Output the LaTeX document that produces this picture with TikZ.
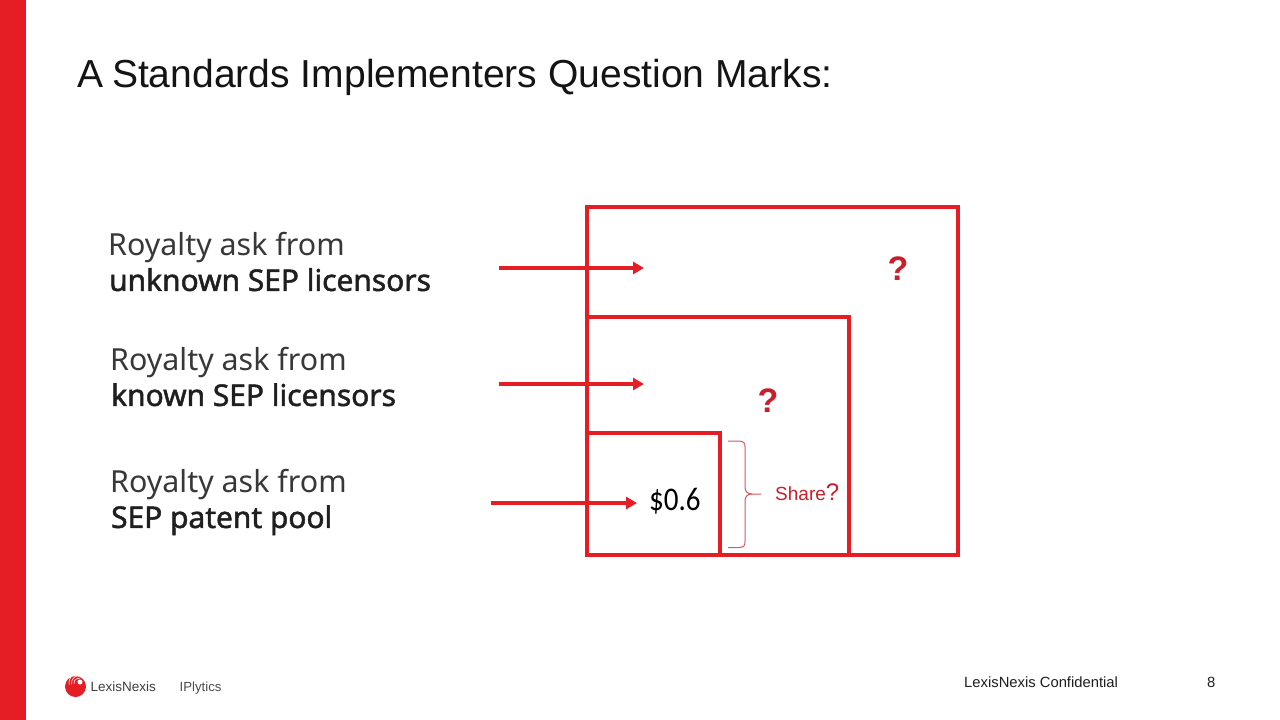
\documentclass[tikz,border=0pt]{standalone}
\usepackage{fontspec}
\setmainfont{Liberation Sans}
\newfontfamily\labelfont[BoldFont={Noto Sans},BoldFeatures={FakeBold=1.6}]{Noto Sans}
\newfontfamily\calfont[FakeStretch=0.88]{Carlito}
\definecolor{lnred}{HTML}{E51E26}
\definecolor{sharered}{HTML}{C8202A}
\usetikzlibrary{arrows.meta}
\tikzset{
  sq/.style={draw=lnred,line width=4.9pt,fill=none,inner sep=0pt,outer sep=0pt,anchor=north west},
  rowlabel/.style={inner sep=0pt,anchor=north west,align=left,text=black!78,font=\labelfont\fontsize{30.4}{36}\selectfont},
  flow/.style={draw=lnred,line width=3.4pt,-{Triangle[length=11pt,width=12pt]}},
  qmark/.style={inner sep=0pt,text=sharered,font=\bfseries\fontsize{34}{34}\selectfont},
  plain/.style={inner sep=0pt,anchor=base west},
  bracepath/.style={draw=sharered!75,line width=1pt}
}
\newcommand{\boldrow}[1]{{\fontsize{29.9}{36}\selectfont\bfseries\color{black!88}\hspace{1pt}#1}}
\begin{document}
\begin{tikzpicture}[x=1pt,y=-1pt]
\useasboundingbox (0,0) rectangle (1280,720);
\fill[white] (0,0) rectangle (1280,720);
\fill[lnred] (0,0) rectangle (26,720);
\node[plain,font=\fontsize{39.05}{42}\selectfont,text=black!92] (title) at (77,87.5) {A\hspace{-2pt} Standards Implementers Question Marks:};

\node[sq,minimum width=371pt,minimum height=348pt] (outer) at (587,207) {};
\node[sq,minimum width=262pt,minimum height=238pt] (mid) at (587,317) {};
\node[sq,minimum width=133pt,minimum height=122pt] (inner) at (587,433) {};

\node[rowlabel] (l1) at (108,232.5) {Royalty ask from\\[-1pt]\boldrow{unknown SEP licensors}};
\node[rowlabel] (l2) at (110,347.5) {Royalty ask from\\[-1pt]\boldrow{known SEP licensors}};
\node[rowlabel] (l3) at (110,469.5) {Royalty ask from\\[-1pt]\boldrow{SEP patent pool}};

\coordinate (a1s) at (499,268); \coordinate (a1e) at (644,268);
\coordinate (a2s) at (499,384); \coordinate (a2e) at (644,384);
\coordinate (a3s) at (491,503); \coordinate (a3e) at (637,503);
\draw[flow] (a1s) -- (a1e);
\draw[flow] (a2s) -- (a2e);
\draw[flow] (a3s) -- (a3e);

\node[qmark] (q1) at (898,269) {?};
\node[qmark] (q2) at (768,401) {?};
\node[plain,font=\calfont\fontsize{33}{33}\selectfont,text=black] (val) at (649,510) {\$0.6};

\draw[bracepath] (728,441) -- (738,441) .. controls (744,441) and (745,443) .. (745,447) -- (745,487)
  .. controls (745,492) and (748,494) .. (752,494) -- (761,494);
\draw[bracepath] (752,494) .. controls (748,494) and (745,496) .. (745,501) -- (745,541)
  .. controls (745,546) and (744,547.5) .. (738,547.5) -- (728,547.5);

\node[plain,font=\fontsize{19}{20}\selectfont,text=sharered] (share) at (775,500.5) {Share\fontsize{24}{24}\selectfont ?};

% footer
\fill[lnred] (75.5,686.5) circle (10.5);
\foreach \r in {5,7.5,10} \draw[white,line width=0.6pt] (79,683) ++(170:\r) arc (170:280:\r);
\fill[white] (80,682) circle (2.5);
\node[plain,font=\fontsize{13.5}{14}\selectfont,text=black!75] (lnx) at (90.5,691) {LexisNexis};
\node[plain,font=\fontsize{13.2}{14}\selectfont,text=black!70] (ipl) at (179.5,691) {IPlytics};
\node[plain,font=\fontsize{14.8}{16}\selectfont,text=black!88] (conf) at (964,687) {LexisNexis Confidential};
\node[plain,font=\fontsize{14.8}{16}\selectfont,text=black!88] (pg) at (1207,687) {8};
\end{tikzpicture}
\end{document}
